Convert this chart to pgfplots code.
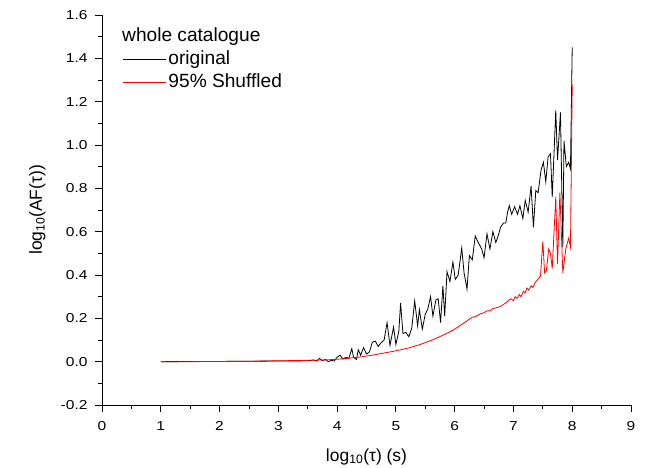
\documentclass[border=0pt]{standalone}
\usepackage{fontspec}
\setmainfont{Liberation Sans}
\newfontfamily\tickfont[FakeStretch=1.2]{Liberation Sans}
\usepackage{pgfplots}
\usepackage{pgfplotstable}
\pgfplotsset{compat=1.18}
\usetikzlibrary{calc}

% original catalogue
\pgfplotstableread{
x y
1.00 0.000
2.00 0.001
3.00 0.003
3.50 0.004
3.60 0.008
3.65 0.002
3.70 0.015
3.75 0.005
3.80 0.010
3.85 0.000
3.90 0.006
3.95 0.003
4.00 0.020
4.05 0.030
4.10 0.012
4.15 0.020
4.20 0.015
4.25 0.060
4.28 0.020
4.33 0.010
4.36 0.055
4.40 0.030
4.45 0.065
4.50 0.035
4.55 0.045
4.60 0.090
4.65 0.095
4.70 0.070
4.74 0.085
4.80 0.100
4.85 0.180
4.90 0.075
4.96 0.160
5.00 0.080
5.05 0.140
5.08 0.270
5.12 0.130
5.17 0.135
5.22 0.115
5.27 0.155
5.32 0.280
5.37 0.165
5.40 0.240
5.45 0.150
5.50 0.220
5.54 0.240
5.59 0.300
5.63 0.210
5.68 0.285
5.72 0.290
5.76 0.180
5.80 0.350
5.83 0.210
5.87 0.415
5.92 0.370
5.97 0.460
6.01 0.380
6.06 0.400
6.12 0.525
6.16 0.410
6.21 0.335
6.25 0.490
6.30 0.470
6.35 0.580
6.40 0.550
6.46 0.520
6.50 0.480
6.55 0.590
6.60 0.520
6.65 0.600
6.70 0.550
6.74 0.580
6.78 0.620
6.83 0.640
6.87 0.640
6.90 0.690
6.93 0.720
6.97 0.680
7.02 0.715
7.07 0.680
7.11 0.720
7.16 0.660
7.20 0.745
7.25 0.690
7.30 0.810
7.34 0.620
7.38 0.790
7.42 0.780
7.47 0.885
7.51 0.920
7.55 0.830
7.59 0.945
7.63 0.960
7.66 0.760
7.72 1.160
7.75 0.930
7.80 1.150
7.84 0.530
7.86 1.020
7.90 0.900
7.94 0.920
7.97 0.890
8.00 1.450
}\orig

% 95% shuffled
\pgfplotstableread{
x y
1.00 0.000
1.50 0.000
2.00 0.001
2.50 0.002
3.00 0.004
3.50 0.006
3.80 0.008
4.00 0.011
4.20 0.016
4.40 0.022
4.60 0.030
4.80 0.040
5.00 0.050
5.20 0.062
5.40 0.078
5.60 0.098
5.80 0.122
5.90 0.135
6.00 0.150
6.10 0.168
6.20 0.186
6.25 0.197
6.30 0.205
6.35 0.208
6.40 0.215
6.45 0.222
6.50 0.226
6.55 0.235
6.60 0.234
6.65 0.245
6.70 0.248
6.75 0.252
6.80 0.258
6.85 0.268
6.90 0.278
6.95 0.290
7.00 0.282
7.03 0.300
7.06 0.292
7.10 0.310
7.13 0.300
7.17 0.325
7.20 0.318
7.23 0.340
7.26 0.330
7.30 0.350
7.33 0.342
7.37 0.365
7.40 0.375
7.43 0.385
7.46 0.395
7.50 0.555
7.53 0.410
7.56 0.420
7.60 0.520
7.63 0.500
7.66 0.430
7.72 0.760
7.75 0.450
7.79 0.780
7.84 0.410
7.89 0.520
7.94 0.570
7.97 0.530
8.00 1.280
}\shuf

\begin{document}
\begin{tikzpicture}
\begin{axis}[
    scale only axis,
    width=529bp, height=390bp,
    xmin=0, xmax=9, ymin=-0.2, ymax=1.6,
    axis lines*=left,
    axis line style={line width=0.8bp},
    xtick={0,1,...,9},
    ytick={-0.2,0,0.2,0.4,0.6,0.8,1.0,1.2,1.4,1.6},
    minor x tick num=1, minor y tick num=1,
    tick align=outside,
    major tick length=6.5bp, minor tick length=3.5bp,
    every tick/.style={black, line width=0.8bp},
    ticklabel style={font=\tickfont\fontsize{13}{15}\selectfont},
    xticklabel style={yshift=-6.5bp},
    yticklabel style={xshift=-4.5bp, /pgf/number format/.cd, fixed, fixed zerofill, precision=1},
    /pgf/number format/assume math mode=true,
    xlabel={log\textsubscript{10}(τ) (s)},
    ylabel={log\textsubscript{10}(AF(τ))},
    xlabel style={at={(axis description cs:0.5,-0.133)}, anchor=center, font=\fontsize{17.5}{20}\selectfont},
    ylabel style={at={(axis description cs:-0.122,0.5)}, anchor=center, font=\fontsize{17.5}{20}\selectfont},
    legend style={at={(axis description cs:0.0378,0.909)}, anchor=north west,
        draw=none, fill=none, inner sep=0pt, row sep=4bp,
        font=\fontsize{19.2}{22}\selectfont,
        nodes={inner ysep=1bp, inner xsep=2.5bp, text height=13bp, text depth=4bp}},
    legend cell align=left,
]
\addplot[black, line width=0.8bp,
    legend image code/.code={\draw[black, line width=0.8bp] (0bp,1bp) -- (43bp,1bp);}]
    table[x=x, y=y] {\orig};
\addlegendentry{original}
\addplot[red, line width=0.8bp,
    legend image code/.code={\draw[red, line width=0.8bp] (0bp,1bp) -- (43bp,1bp);}]
    table[x=x, y=y] {\shuf};
\addlegendentry{95\% Shuffled}
\node[anchor=base west, inner sep=0pt, font=\fontsize{19.2}{22}\selectfont]
    at (axis description cs:0.0378,0.933) {whole catalogue};
\coordinate (sw) at (rel axis cs:0,0);
\coordinate (ne) at (rel axis cs:1,1);
\end{axis}
\pgfresetboundingbox
\path[use as bounding box] ($(sw)+(-102bp,-63bp)$) rectangle ($(ne)+(14bp,15bp)$);
\end{tikzpicture}
\end{document}
